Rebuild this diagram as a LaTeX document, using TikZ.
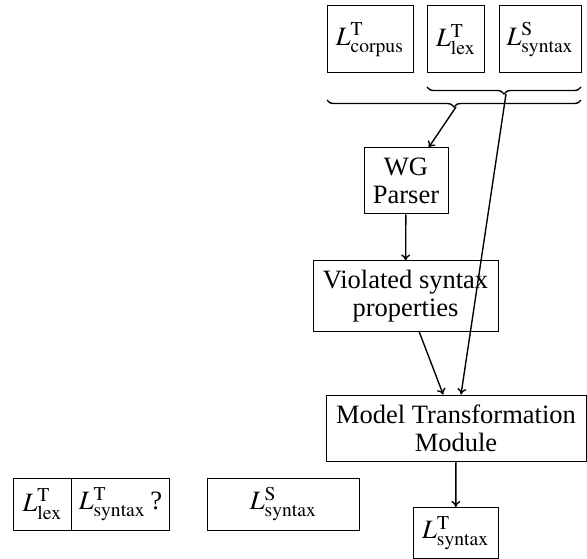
\documentclass[tikz,border=0pt]{standalone}
\usepackage{mathptmx}
\usepackage{fontspec}
\setmainfont{Liberation Serif}
\usetikzlibrary{arrows.meta,decorations.pathreplacing}

\newcommand{\Lang}[2]{$L^{\mathrm{#1}}_{\mathrm{#2}}$}

\begin{document}
\begin{tikzpicture}[
      x=0.4pt, y=-0.4pt,
      every node/.style={font=\fontsize{10.6}{11.3}\selectfont},
      box/.style={draw, inner sep=1pt, align=center},
      lang/.style={box, minimum height=26.8pt},
      langb/.style={box, minimum height=20.8pt},
      arr/.style={-{To[length=2.4pt, width=3.6pt]}, line width=0.55pt},
      brc/.style={decorate, decoration={brace, amplitude=2.8pt}, line width=0.55pt}
  ]
    \useasboundingbox (0,0) rectangle (587,559);

    % --- Input languages ---
    \node[lang, minimum width=34.4pt] (corpus) at (370, 39.5) {\Lang{T}{corpus}};
    \node[lang, minimum width=22.8pt] (lexT) at (456, 39.5) {\Lang{T}{lex}};
    \node[lang, minimum width=32.8pt] (synS) at (540.2, 39.5) {\Lang{S}{syntax}};

    % braces below the inputs
    \draw[brc] (581, 87) -- (427, 87);
    \coordinate (ubrace) at (506, 94);
    \draw[brc] (581, 100) -- (327, 100);
    \coordinate (lbrace) at (456, 107);

    % --- Pipeline ---
    \node[box, minimum width=33.6pt, minimum height=26.4pt] (wg) at (406, 181)
          {WG\\Parser};
    \node[box, minimum width=74pt, minimum height=28pt] (viol) at (405.5, 296)
          {Violated syntax\\properties};
    \node[box, minimum width=104pt, minimum height=26.4pt] (mt) at (456, 428)
          {Model Transformation\\Module};
    \node[box, minimum width=34pt, minimum height=20.4pt] (out) at (455.8, 533)
          {\Lang{T}{syntax}};

    \draw[arr] (lbrace) -- (wg);
    \draw[arr] (wg) -- (viol);
    \draw[arr] (viol) -- (mt);
    \draw[arr] (ubrace) -- (mt);
    \draw[arr] (mt) -- (out);

    % --- Bottom row ---
    \node[langb, minimum width=23.2pt] (lexB) at (42.5, 504) {\Lang{T}{lex}};
    \node[langb, minimum width=39pt] (synQ) at (120.5, 504) {\Lang{T}{syntax}\,?};
    \node[langb, minimum width=60.6pt] (synB) at (283.5, 504) {\Lang{S}{syntax}};

\end{tikzpicture}
\end{document}
